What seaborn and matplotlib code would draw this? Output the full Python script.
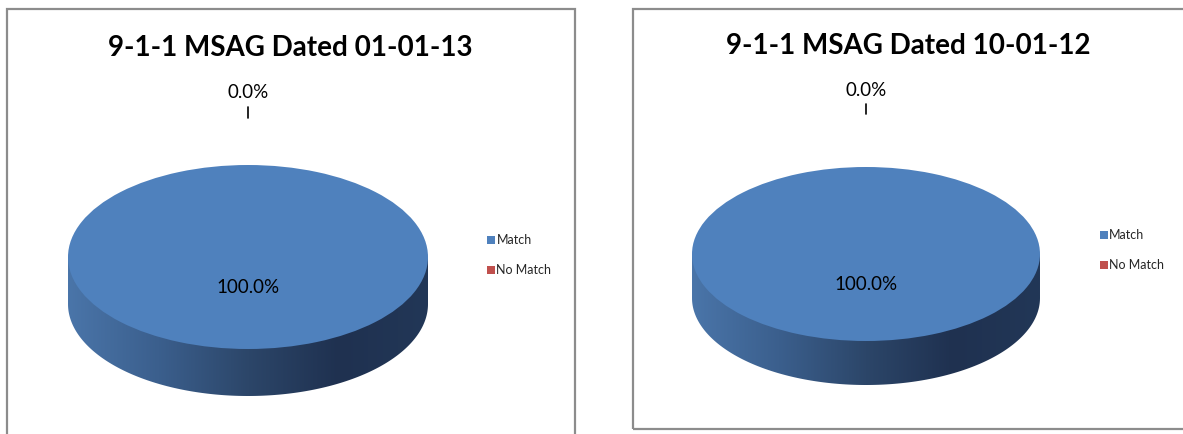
import numpy as np
import matplotlib
matplotlib.use("Agg")
import matplotlib.pyplot as plt
import seaborn as sns
from matplotlib.patches import Rectangle
from matplotlib.path import Path
from matplotlib.colors import LinearSegmentedColormap

# ---- data ----
categories = ["Match", "No Match"]
titles = ["9-1-1 MSAG Dated 01-01-13", "9-1-1 MSAG Dated 10-01-12"]
values_0113 = [100.0, 0.0]
values_1012 = [100.0, 0.0]
colors = ["#4f81bd", "#c0504d"]

W, H = 1183, 434

sns.set_theme(style="white")
plt.rcParams["font.family"] = ["Lato", "DejaVu Sans"]

fig = plt.figure(figsize=(W / 100, H / 100), dpi=100)
fig.patch.set_facecolor("white")

side_cmap = LinearSegmentedColormap.from_list(
    "side", ["#4a75a9", "#3b5f8d", "#2c4669", "#1f3150", "#223757"], N=256
)


def px_rect(x0, y0, x1, y1):
    # pixel box (top-left origin) -> figure fraction [l, b, w, h]
    return [x0 / W, 1 - y1 / H, (x1 - x0) / W, (y1 - y0) / H]


def draw_panel(values, title, frame, cx, cy, a, b, depth_px, title_xy, lbl0_y, legend_xy):
    # frame
    fx0, fy0, fx1, fy1 = frame
    fig.add_artist(Rectangle((fx0 / W, 1 - fy1 / H), (fx1 - fx0) / W, (fy1 - fy0) / H,
                             transform=fig.transFigure, fill=False,
                             edgecolor="#8c8c8c", lw=1.6))
    tx, ty_ = title_xy
    fig.text(tx / W, 1 - ty_ / H, title, ha="center", va="center",
             fontsize=20, fontweight="bold", color="black")

    d = depth_px / b
    ax = fig.add_axes(px_rect(cx - 1.15 * a, cy - 1.1 * b, cx + 1.15 * a, cy + (1.1 + d) * b))

    # side of the 3-D pie (gradient, clipped)
    th = np.linspace(0, -np.pi, 200)
    verts = [(-1, 0), (1, 0)] + list(zip(np.cos(th), np.sin(th) - d)) + [(-1, 0)]
    clip = Path(verts, closed=True)
    grad = np.linspace(0, 1, 256).reshape(1, -1)
    im = ax.imshow(grad, extent=[-1, 1, -1 - d, 0], cmap=side_cmap, aspect="auto",
                   interpolation="bilinear", zorder=1)
    im.set_clip_path(clip, transform=ax.transData)

    wedges, _ = ax.pie(values, colors=colors, startangle=90, counterclock=False,
                       radius=1, center=(0, 0), wedgeprops=dict(linewidth=0))
    for w in wedges:
        w.set_zorder(2)

    total = sum(values)
    for w, v in zip(wedges, values):
        pct = f"{v / total * 100:.1f}%"
        mid = np.deg2rad((w.theta1 + w.theta2) / 2)
        if v / total > 0.5:
            r = 30 / b
            ax.text(r * np.cos(mid), r * np.sin(mid), pct, ha="center", va="center",
                    fontsize=13.5, color="black", zorder=5)
        else:
            ty = (cy - lbl0_y) / b
            ax.text(0, ty, pct, ha="center", va="center",
                    fontsize=13.5, color="black", zorder=5)
            ax.plot([0, 0], [ty - 0.16, ty - 0.28], color="black", lw=1.2,
                    clip_on=False, zorder=5)

    ax.set_aspect("auto")
    ax.set_xlim(-1.15, 1.15)
    ax.set_ylim(-1.1 - d, 1.1)
    ax.axis("off")

    lx, ly = legend_xy
    fig.legend(wedges, categories, loc="upper left",
               bbox_to_anchor=(lx / W, 1 - ly / H), bbox_transform=fig.transFigure,
               frameon=False, fontsize=9, handlelength=0.6, handleheight=0.6,
               handletextpad=0.15, labelspacing=1.45, borderpad=0, borderaxespad=0,
               labelcolor="#262626")


draw_panel(values_0113, titles[0], (6.5, 8.5, 575, 445), 248, 257, 180, 92, 47,
           (290, 48), 92, (487, 234))
draw_panel(values_1012, titles[1], (633, 9, 1195, 429), 866, 254, 174, 87, 44,
           (908, 46), 90, (1100, 229))

fig.savefig("out.png", dpi=100, facecolor="white")
